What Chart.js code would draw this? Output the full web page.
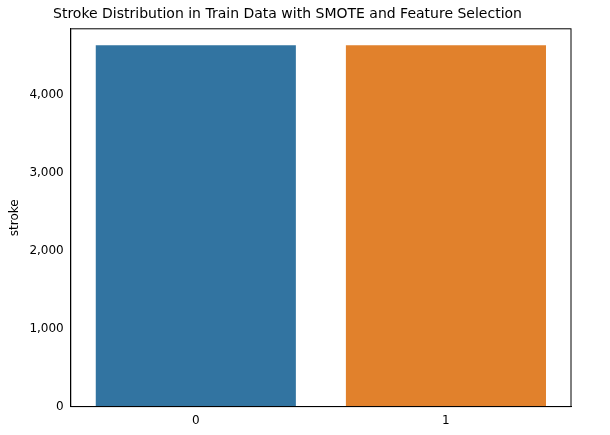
<!DOCTYPE html>
<html>
<head>
<script src="https://cdn.jsdelivr.net/npm/chart.js@4"></script>
<style>body{margin:0;background:#fff}#wrap{width:610px;height:435px}</style>
</head>
<body>
<div id="wrap"><canvas id="c"></canvas></div>
<script>
const labels = ['0', '1'];
const counts = [4630, 4630];
const colors = ['#3274a1', '#e1812c'];

new Chart('c', {
  type: 'bar',
  data: { labels: labels, datasets: [{ data: counts, backgroundColor: colors, categoryPercentage: 0.8, barPercentage: 1 }] },
  options: {
    responsive: true, maintainAspectRatio: false, animation: false,
    layout: { padding: { left: 4, right: 39, top: 0, bottom: 4 } },
    plugins: {
      legend: { display: false },
      title: { display: true, text: 'Stroke Distribution in Train Data with SMOTE and Feature Selection',
        color: '#000', font: { family: 'DejaVu Sans', size: 14, weight: 'normal' }, padding: { top: 6, bottom: 6 } }
    },
    scales: {
      x: { grid: { display: false, drawTicks: true, tickLength: 4 }, border: { color: '#000' },
        ticks: { color: '#000', font: { family: 'DejaVu Sans', size: 12 } } },
      y: { min: 0, max: 4842, grid: { display: false, tickLength: 4 }, border: { color: '#000' },
        afterBuildTicks: s => { s.ticks = [0,1000,2000,3000,4000].map(v => ({ value: v })); },
        ticks: { color: '#000', font: { family: 'DejaVu Sans', size: 12 } },
        title: { display: true, text: 'stroke', color: '#000', font: { family: 'DejaVu Sans', size: 12 } } }
    }
  },
  plugins: [{ id: 'box', afterDraw(ch) {
    const a = ch.chartArea, x = ch.ctx; x.save(); x.strokeStyle = '#000'; x.lineWidth = 1;
    x.strokeRect(a.left, a.top, a.right - a.left, a.bottom - a.top); x.restore(); } }]
});
</script>
</body>
</html>
